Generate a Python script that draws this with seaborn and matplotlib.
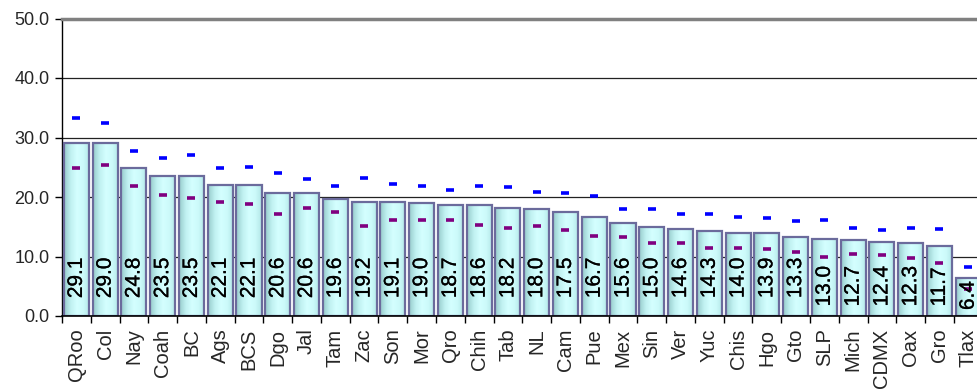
import numpy as np
import pandas as pd
import matplotlib
matplotlib.use("Agg")
import matplotlib.pyplot as plt
import matplotlib.patheffects as pe
import seaborn as sns
from matplotlib.colors import LinearSegmentedColormap

# === Data ===
states = ["QRoo", "Col", "Nay", "Coah", "BC", "Ags", "BCS", "Dgo", "Jal", "Tam",
          "Zac", "Son", "Mor", "Qro", "Chih", "Tab", "NL", "Cam", "Pue", "Mex",
          "Sin", "Ver", "Yuc", "Chis", "Hgo", "Gto", "SLP", "Mich", "CDMX", "Oax",
          "Gro", "Tlax"]
values = [29.1, 29.0, 24.8, 23.5, 23.5, 22.1, 22.1, 20.6, 20.6, 19.6,
          19.2, 19.1, 19.0, 18.7, 18.6, 18.2, 18.0, 17.5, 16.7, 15.6,
          15.0, 14.6, 14.3, 14.0, 13.9, 13.3, 13.0, 12.7, 12.4, 12.3,
          11.7, 6.4]
upper = [33.2, 32.5, 27.8, 26.6, 27.1, 24.9, 25.1, 24.1, 23.0, 21.9,
         23.2, 22.2, 21.9, 21.2, 21.8, 21.6, 20.8, 20.6, 20.1, 18.0,
         17.9, 17.1, 17.2, 16.6, 16.4, 15.9, 16.1, 14.8, 14.5, 14.8,
         14.6, 8.2]
lower = [24.9, 25.4, 21.8, 20.4, 19.8, 19.2, 18.9, 17.1, 18.2, 17.4,
         15.2, 16.1, 16.1, 16.1, 15.3, 14.8, 15.1, 14.4, 13.4, 13.2,
         12.2, 12.2, 11.4, 11.5, 11.3, 10.7, 10.0, 10.5, 10.3, 9.7,
         8.9, 4.6]
yticks = [0, 10, 20, 30, 40, 50]

df = pd.DataFrame({"state": states, "value": values, "upper": upper, "lower": lower})

# === Style ===
sns.set_style("white")
plt.rcParams["font.family"] = ["Liberation Sans", "DejaVu Sans"]

fig = plt.figure(figsize=(9.77, 3.91), dpi=100)
ax = fig.add_axes([62 / 977, 75 / 391, 920.6 / 977, 297.5 / 391])

# Bars
sns.barplot(data=df, x="state", y="value", color="#ccffff", width=0.87,
            edgecolor="#6b6b9c", linewidth=1.6, ax=ax, zorder=3)

# gradient fill clipped to each bar
grad = LinearSegmentedColormap.from_list(
    "bar", ["#98cccc", "#bff0f0", "#d4ffff", "#ccfafa", "#b2e6e6"])
for patch in ax.patches:
    x0, y0 = patch.get_x(), patch.get_y()
    w, h = patch.get_width(), patch.get_height()
    im = ax.imshow(np.linspace(0, 1, 64).reshape(1, -1), cmap=grad,
                   extent=[x0, x0 + w, y0, y0 + h], aspect="auto",
                   interpolation="bilinear", zorder=2.9)
    im.set_clip_path(patch)
    patch.set_facecolor("none")

# Markers
sns.pointplot(data=df, x="state", y="upper", linestyle="none", marker="_",
              color="#0000ff", markersize=6, markeredgewidth=2.6,
              errorbar=None, ax=ax, zorder=5)
sns.pointplot(data=df, x="state", y="lower", linestyle="none", marker="_",
              color="#800080", markersize=5.5, markeredgewidth=2.6,
              errorbar=None, ax=ax, zorder=5)

# Value labels inside bars
for i, v in enumerate(values):
    base = 3.0 if v >= 13.2 else (1.6 if v >= 10 else 1.0)
    ax.text(i, base, f"{v:.1f}", rotation=90, ha="center", va="bottom",
            fontsize=15, color="black", zorder=6,
            path_effects=[pe.withStroke(linewidth=0.2, foreground="black")])

# === Axes ===
ax.set_xlim(-0.5, len(states) - 0.5)
ax.set_ylim(0, 50)
ax.set_yticks(yticks)
ax.set_yticklabels([f"{t:.1f}" for t in yticks], fontsize=13)
ax.set_xlabel("")
ax.set_ylabel("")

ax.set_xticks(np.arange(len(states) + 1) - 0.5)
ax.set_xticklabels([])
ax.set_xticks(np.arange(len(states)), minor=True)
ax.set_xticklabels(states, minor=True, rotation=90, fontsize=14.5)
ax.tick_params(axis="x", which="major", direction="out", length=5, width=1,
               color="black", bottom=True)
ax.tick_params(axis="x", which="minor", length=0, pad=9)
ax.tick_params(axis="y", direction="out", length=5, width=1, color="black",
               left=True, pad=4)

for t in [10, 20, 30, 40]:
    ax.axhline(t, color="#222222", linewidth=0.9, zorder=1)

ax.spines["top"].set_color("#808080")
ax.spines["top"].set_linewidth(2.5)
ax.spines["right"].set_visible(False)
ax.spines["left"].set_color("black")
ax.spines["left"].set_linewidth(1)
ax.spines["bottom"].set_color("black")
ax.spines["bottom"].set_linewidth(1.2)
ax.spines["bottom"].set_zorder(7)

fig.savefig("out.png", dpi=100)
